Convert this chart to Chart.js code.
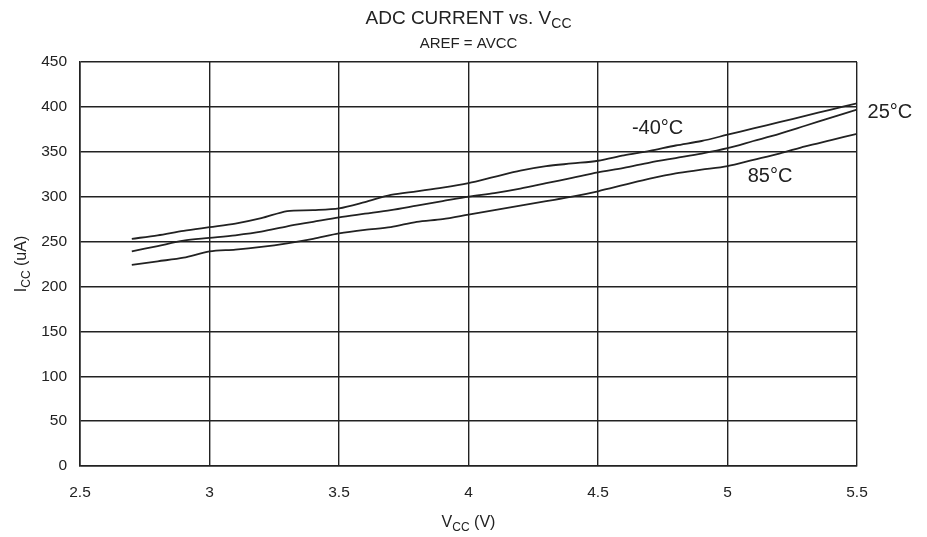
<!DOCTYPE html>
<html>
<head>
<meta charset="utf-8">
<script src="https://cdn.jsdelivr.net/npm/chart.js@4.4.0/dist/chart.umd.min.js"></script>
<style>
  html, body { margin: 0; padding: 0; background: #fff; }
  #wrap { width: 927px; height: 537px; position: relative; }
</style>
</head>
<body>
<div id="wrap"><canvas id="chart"></canvas></div>
<script>
// supply voltage (V)
const vcc = [2.7, 2.8, 2.9, 3.0, 3.1, 3.2, 3.3, 3.4, 3.5, 3.6, 3.7, 3.8, 3.9, 4.0, 4.1,
  4.2, 4.3, 4.4, 4.5, 4.6, 4.7, 4.8, 4.9, 5.0, 5.1, 5.2, 5.3, 5.4, 5.5];

// ADC current (uA) per temperature
const iccMinus40 = [253, 257, 262, 266, 270, 276, 284, 285, 287, 294, 302, 306, 310, 315, 322,
  329, 334, 337, 340, 346, 351, 357, 362, 369, 376, 383, 390, 397, 404];
const icc25 = [239, 245, 251, 254, 257, 261, 267, 272, 277, 281, 285, 290, 295, 300, 304,
  309, 315, 321, 327, 332, 338, 343, 348, 354, 362, 370, 379, 388, 397];
const icc85 = [224, 228, 232, 239, 241, 244, 248, 253, 259, 263, 266, 272, 275, 280, 285,
  290, 295, 300, 306, 313, 320, 326, 330, 334, 341, 348, 356, 363, 370];

const xTicks = [2.5, 3, 3.5, 4, 4.5, 5, 5.5];
const yTicks = [0, 50, 100, 150, 200, 250, 300, 350, 400, 450];

// curve labels: [text, x value, y value]
const curveLabels = [
  ['-40°C', 4.73, 376],
  ['25°C', 5.627, 394],
  ['85°C', 5.164, 322]
];

const FONT = '"Liberation Sans", Arial, sans-serif';
const INK = '#222';

const toPoints = ys => vcc.map((v, i) => ({ x: v, y: ys[i] }));

// text with a subscript part, e.g. "V" + "CC" + " (V)"
function subText(ctx, parts, x, y, size, align) {
  const subSize = Math.round(size * 0.72);
  let total = 0;
  parts.forEach(p => {
    ctx.font = (p.sub ? subSize : size) + 'px ' + FONT;
    total += ctx.measureText(p.t).width;
  });
  let cx = align === 'center' ? x - total / 2 : x;
  ctx.textAlign = 'left';
  ctx.textBaseline = 'alphabetic';
  parts.forEach(p => {
    ctx.font = (p.sub ? subSize : size) + 'px ' + FONT;
    ctx.fillText(p.t, cx, p.sub ? y + size * 0.22 : y);
    cx += ctx.measureText(p.t).width;
  });
}

const textPlugin = {
  id: 'texts',
  afterDraw(chart) {
    const { ctx, chartArea, scales } = chart;
    ctx.save();
    ctx.fillStyle = INK;
    const midX = (chartArea.left + chartArea.right) / 2;

    subText(ctx, [{ t: 'ADC CURRENT vs. V' }, { t: 'CC', sub: true }], midX, 23.5, 19, 'center');
    ctx.font = '15px ' + FONT;
    ctx.textAlign = 'center';
    ctx.textBaseline = 'alphabetic';
    ctx.fillText('AREF = AVCC', midX, 48);

    subText(ctx, [{ t: 'V' }, { t: 'CC', sub: true }, { t: ' (V)' }], midX, 527, 16, 'center');

    ctx.save();
    ctx.translate(26, (chartArea.top + chartArea.bottom) / 2);
    ctx.rotate(-Math.PI / 2);
    subText(ctx, [{ t: 'I' }, { t: 'CC', sub: true }, { t: ' (uA)' }], 0, 0, 16, 'center');
    ctx.restore();

    ctx.font = '20px ' + FONT;
    ctx.textAlign = 'center';
    ctx.textBaseline = 'middle';
    curveLabels.forEach(([t, x, y]) => {
      ctx.fillText(t, scales.x.getPixelForValue(x), scales.y.getPixelForValue(y));
    });
    ctx.restore();
  }
};

const lineSet = ys => ({
  data: toPoints(ys),
  borderColor: INK,
  borderWidth: 1.8,
  pointRadius: 0,
  fill: false,
  tension: 0.3
});

new Chart(document.getElementById('chart'), {
  type: 'line',
  data: {
    datasets: [lineSet(iccMinus40), lineSet(icc25), lineSet(icc85)]
  },
  options: {
    responsive: true,
    maintainAspectRatio: false,
    animation: false,
    layout: { padding: { top: 62, right: 70, left: 0, bottom: 0 } },
    plugins: {
      legend: { display: false },
      title: { display: false },
      tooltip: { enabled: false }
    },
    scales: {
      x: {
        type: 'linear',
        min: 2.5,
        max: 5.5,
        afterBuildTicks: s => { s.ticks = xTicks.map(v => ({ value: v })); },
        afterFit: s => { s.height = 71; },
        ticks: {
          color: INK,
          font: { family: FONT, size: 15.5 },
          padding: 17,
          callback: v => String(v)
        },
        grid: { color: INK, lineWidth: 1.4, drawTicks: false },
        border: { color: INK, width: 1.6 }
      },
      y: {
        min: 0,
        max: 450,
        afterBuildTicks: s => { s.ticks = yTicks.map(v => ({ value: v })); },
        afterFit: s => { s.width = 80; },
        ticks: { color: INK, font: { family: FONT, size: 15.5 }, padding: 13 },
        grid: { color: INK, lineWidth: 1.4, drawTicks: false },
        border: { color: INK, width: 1.6 }
      }
    }
  },
  plugins: [textPlugin]
});
</script>
</body>
</html>
